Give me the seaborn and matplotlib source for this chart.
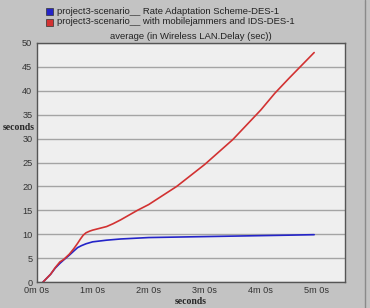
import pandas as pd
import numpy as np
import matplotlib
matplotlib.use("Agg")
import matplotlib.pyplot as plt
import seaborn as sns
from matplotlib.lines import Line2D
from matplotlib.patches import Rectangle

# valeurs (temps en secondes, délai en secondes)
t_rate = [7, 15, 20, 25, 29, 35, 40, 44, 48, 53, 60, 75, 90, 120, 150, 180, 210, 240, 270, 297]
delay_rate = [0, 1.6, 2.9, 3.9, 4.6, 5.6, 6.5, 7.2, 7.6, 8.0, 8.4, 8.75, 9.0, 9.3, 9.4, 9.5,
              9.6, 9.7, 9.8, 9.9]

t_jam = [7, 15, 20, 25, 29, 35, 40, 44, 47, 50, 53, 57, 60, 67, 75, 82, 90, 108, 120, 150,
         180, 210, 240, 255, 270, 297]
delay_jam = [0, 1.6, 3.0, 4.2, 4.7, 5.8, 7.0, 8.1, 9.0, 9.8, 10.3, 10.65, 10.85, 11.2, 11.6,
             12.2, 13.0, 15.0, 16.2, 20.0, 24.6, 29.8, 36.0, 39.5, 42.6, 48.0]

labels = ["project3-scenario__ Rate Adaptation Scheme-DES-1",
          "project3-scenario__ with mobilejammers and IDS-DES-1"]
colors = ["#2424c8", "#d23232"]
x_ticks = [0, 60, 120, 180, 240, 300]
x_ticklabels = ["0m 0s", "1m 0s", "2m 0s", "3m 0s", "4m 0s", "5m 0s"]

df = pd.concat([
    pd.DataFrame({"t": t_rate, "delay": delay_rate, "serie": labels[0]}),
    pd.DataFrame({"t": t_jam, "delay": delay_jam, "serie": labels[1]}),
])

sns.set_style("white")
plt.rcParams["font.family"] = ["Liberation Sans", "DejaVu Sans"]

fig = plt.figure(figsize=(3.7, 3.08), dpi=100)
fig.patch.set_facecolor("#c3c3c3")
ax = fig.add_axes([36.5 / 370, 1 - 282 / 308, (345 - 36.5) / 370, (282 - 43) / 308])
ax.set_facecolor("#efefef")

sns.lineplot(data=df, x="t", y="delay", hue="serie", palette=colors,
             linewidth=1.2, legend=False, ax=ax, sort=False)

ax.set_xlim(0, 330)
ax.set_ylim(0, 50)
ax.set_xticks(x_ticks)
ax.set_xticklabels(x_ticklabels)
ax.set_yticks(np.arange(0, 51, 5))
ax.yaxis.grid(True, color="#a4a4a4", linewidth=1.0)
ax.set_axisbelow(True)
ax.tick_params(axis="both", labelsize=6.6, length=3, width=0.8, color="#444444",
               labelcolor="#333333", pad=1.5, direction="inout")
for s in ax.spines.values():
    s.set_color("#555555")
    s.set_linewidth(1.0)

ax.set_xlabel("seconds", family="Liberation Serif", fontweight="bold", fontsize=7, labelpad=1)
ax.set_ylabel("")
fig.text(19 / 370, 1 - 127 / 308, "seconds", family="Liberation Serif", fontweight="bold",
         fontsize=7, ha="center", va="center")

ax.set_title("average (in Wireless LAN.Delay (sec))", fontsize=6.8, color="#222222", pad=3)

# légende manuelle en haut
for i, (lab, c) in enumerate(zip(labels, colors)):
    y = 1 - (11 + 11 * i) / 308
    fig.patches.append(Rectangle((46 / 370, y - 3.5 / 308), 7 / 370, 7 / 308,
                                 transform=fig.transFigure, facecolor=c,
                                 edgecolor="#333333", linewidth=0.5))
    fig.text(57 / 370, y, lab, fontsize=6.8, color="#222222", va="center", ha="left")

# bordure droite de la fenêtre
fig.add_artist(Line2D([365 / 370, 365 / 370], [0, 1], transform=fig.transFigure,
                      color="#8a8a8a", linewidth=1.0))

fig.savefig("out.png", dpi=100, facecolor=fig.get_facecolor())
